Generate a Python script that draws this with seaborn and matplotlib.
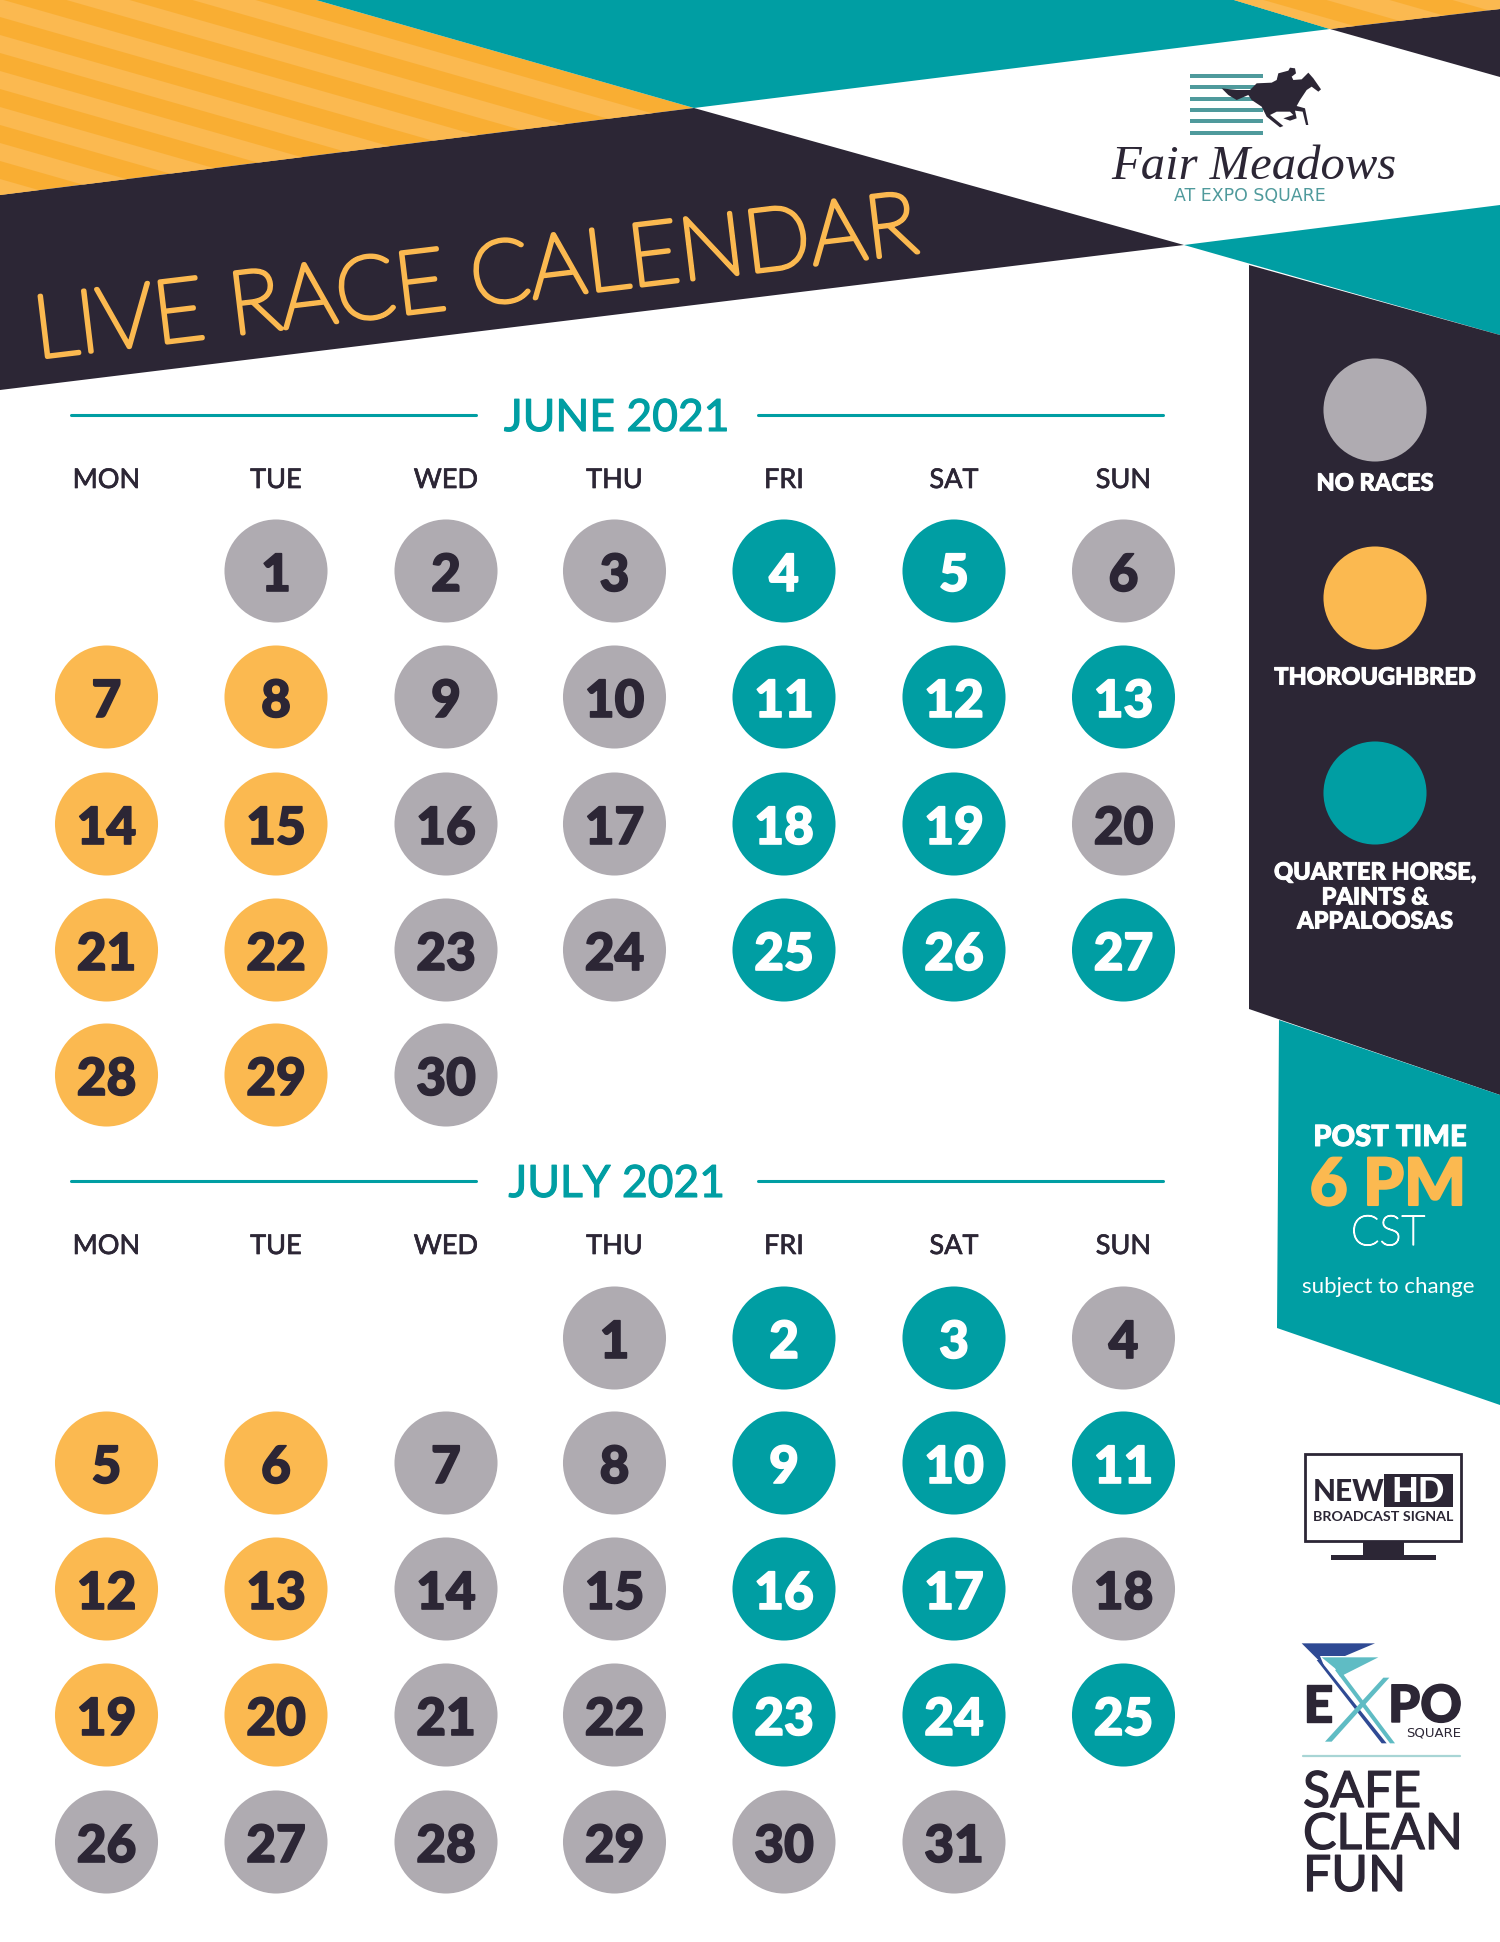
"""Fair Meadows live race calendar, June and July 2021."""
import matplotlib
matplotlib.use('Agg')
import matplotlib.pyplot as plt
import matplotlib.patheffects as pe
import seaborn as sns
import pandas as pd
from matplotlib.patches import Polygon, Rectangle

TEAL = '#009ea3'
ORANGE = '#fbb950'
ORANGE_DK = '#f9ae33'
DARK = '#2c2635'
GREY = '#afabb1'
LOGO_TEAL = '#4f9a9c'

weekdays = ['MON', 'TUE', 'WED', 'THU', 'FRI', 'SAT', 'SUN']

# N = no races, T = thoroughbred, Q = quarter horse / paints / appaloosas
june_kinds = list('NNNQQN' 'TTNNQQQ' 'TTNNQQN' 'TTNNQQQ' 'TTN')
july_kinds = list('NQQN' 'TTNNQQQ' 'TTNNQQN' 'TTNNQQQ' 'NNNNNN')

kind_colors = {'N': GREY, 'T': ORANGE, 'Q': TEAL}
kind_text = {'N': DARK, 'T': DARK, 'Q': 'white'}
legend_kinds = ['N', 'T', 'Q']

# page layout, in reference pixels
col_x = [106.5, 276, 446, 614.5, 784, 954, 1123.5]
june_rows = [571, 697, 824, 950, 1075]
july_rows = [1338, 1463, 1589, 1715, 1842]
CIRCLE_S = 74.2 ** 2


def month_frame(year, month, kinds):
    days = pd.date_range(f'{year}-{month:02d}-01', periods=len(kinds))
    first_offset = days[0].weekday()
    df = pd.DataFrame({'day': days.day, 'kind': kinds})
    df['col'] = days.weekday
    df['week'] = (df['day'] - 1 + first_offset) // 7
    return df


june = month_frame(2021, 6, june_kinds)
july = month_frame(2021, 7, july_kinds)
june['x'] = [col_x[c] for c in june['col']]
june['y'] = [june_rows[w] for w in june['week']]
july['x'] = [col_x[c] for c in july['col']]
july['y'] = [july_rows[w] for w in july['week']]

sns.set_theme(style='white')
plt.rcParams['font.family'] = ['Lato', 'DejaVu Sans']

fig = plt.figure(figsize=(15, 19.42), dpi=100)
ax = fig.add_axes([0, 0, 1, 1])
ax.set_xlim(0, 1500)
ax.set_ylim(1942, 0)
ax.axis('off')


def poly(points, color, z=1):
    ax.add_patch(Polygon(points, closed=True, facecolor=color, edgecolor='none', zorder=z))


def to_page(points, x0, y0):
    return [(x0 + px / 3, y0 + py / 3) for px, py in points]


def heavy(color, width=1.0):
    return [pe.withStroke(linewidth=width, foreground=color)]


def striped(area):
    poly(area, ORANGE_DK)
    clip = Polygon(area, closed=True, transform=ax.transData)
    for k in range(-14, 8):
        y0 = k * 36 - 1
        band = Polygon([(0, y0), (1500, y0 + 1500 * STRIPE_SLOPE),
                        (1500, y0 + 18 + 1500 * STRIPE_SLOPE), (0, y0 + 18)],
                       closed=True, facecolor=ORANGE, edgecolor='none', zorder=1.1)
        ax.add_patch(band)
        band.set_clip_path(clip)


# header shapes
STRIPE_SLOPE = 108 / 378
striped([(0, 0), (316, 0), (694, 108), (0, 195)])
striped([(1234, 0), (1500, 0), (1500, 9), (1330, 29)])
poly([(316, 0), (1234, 0), (1330, 29), (694, 108)], TEAL)
poly([(1330, 29), (1500, 9), (1500, 77)], DARK)
poly([(0, 195), (694, 108), (1184, 245), (0, 390)], DARK)
poly([(1184, 245), (1500, 205), (1500, 335)], TEAL)

# right side panels
poly([(1249, 265), (1500, 335), (1500, 1095), (1249, 1009)], DARK)
poly([(1279, 1020), (1500, 1095), (1500, 1405), (1277, 1328)], TEAL)

# 'light' resolves to the hairline cut here, so give it some body with a stroke
ax.text(37, 358, 'LIVE RACE CALENDAR', color=ORANGE, fontsize=63, fontweight='light',
        rotation=6.85, rotation_mode='anchor', ha='left', va='baseline', zorder=3,
        path_effects=heavy(ORANGE, 3.2))

# fair meadows logo
for py in [102, 136, 170, 204, 238, 272]:
    ax.add_patch(Rectangle((1190, 40 + py / 3), 73, 4, facecolor=LOGO_TEAL, edgecolor='none', zorder=2))
horse = [(425, 145), (470, 150), (510, 150), (530, 130), (575, 128), (590, 120), (595, 100),
         (625, 92), (630, 83), (645, 85), (648, 100), (635, 110), (640, 120), (665, 118),
         (685, 98), (700, 115), (723, 148), (715, 155), (695, 140), (680, 150), (660, 180),
         (650, 198), (675, 205), (685, 255), (678, 255), (668, 215), (645, 212), (650, 235),
         (630, 242), (610, 235), (640, 225), (630, 215), (590, 215), (570, 225), (610, 258),
         (600, 262), (560, 230), (545, 200), (515, 180), (505, 165), (470, 180), (445, 165)]
poly(to_page(horse, 1080, 40), DARK, z=3)
ax.text(1254, 179, 'Fair Meadows', family='Liberation Serif', style='italic', color=DARK,
        fontsize=35, ha='center', va='baseline', zorder=3)
ax.text(1250, 201, 'AT EXPO SQUARE', family='DejaVu Sans', color=LOGO_TEAL, fontsize=12.5,
        ha='center', va='baseline', zorder=3)


def month_header(label, text_y, line_y, head_y):
    ax.text(617, text_y, label, color=TEAL, fontsize=32, fontweight='normal',
            ha='center', va='baseline', zorder=3, path_effects=heavy(TEAL, 0.8))
    sns.lineplot(x=[71, 476], y=[line_y, line_y], color=TEAL, linewidth=2.2, ax=ax, legend=False)
    sns.lineplot(x=[758, 1163], y=[line_y, line_y], color=TEAL, linewidth=2.2, ax=ax, legend=False)
    for x, wd in zip(col_x, weekdays):
        ax.text(x, head_y, wd, color=DARK, fontsize=19.5, ha='center', va='baseline',
                zorder=3, path_effects=heavy(DARK, 0.5))


def month_grid(df):
    sns.scatterplot(data=df, x='x', y='y', hue='kind', palette=kind_colors, s=CIRCLE_S,
                    linewidth=0, legend=False, ax=ax, zorder=2, clip_on=False)
    for row in df.itertuples():
        color = kind_text[row.kind]
        ax.text(row.x, row.y + 20, str(row.day), color=color, fontsize=37, fontweight='black',
                ha='center', va='baseline', zorder=3, path_effects=heavy(color, 1.2))


month_header('JUNE 2021', 431, 415, 488)
month_header('JULY 2021', 1197, 1181, 1254)
month_grid(june)
month_grid(july)

# legend panel
legend_df = pd.DataFrame({'kind': legend_kinds, 'x': [1375] * 3, 'y': [410, 598, 793]})
sns.scatterplot(data=legend_df, x='x', y='y', hue='kind', palette=kind_colors, s=CIRCLE_S,
                linewidth=0, legend=False, ax=ax, zorder=2)
for y, label in [(483, 'NO RACES'), (677, 'THOROUGHBRED'), (872, 'QUARTER HORSE,'),
                 (897, 'PAINTS &'), (921, 'APPALOOSAS')]:
    ax.text(1375, y, label, color='white', fontsize=17, fontweight='black',
            ha='center', va='center', zorder=3, path_effects=heavy('white', 0.7))

# post time box
ax.text(1390, 1146, 'POST TIME', color='white', fontsize=21, fontweight='black', ha='center',
        va='baseline', zorder=3, path_effects=heavy('white', 0.7))
ax.text(1388, 1205, '6 PM', color=ORANGE, fontsize=47, fontweight='black', ha='center',
        va='baseline', zorder=3, path_effects=heavy(ORANGE, 1.5))
ax.text(1388, 1245, 'CST', color='white', fontsize=30, fontweight='light', ha='center',
        va='baseline', zorder=3, path_effects=heavy('white', 1.0))
ax.text(1388, 1293, 'subject to change', color='white', fontsize=16, ha='center', va='baseline', zorder=3)

# hd broadcast badge
ax.add_patch(Rectangle((1305, 1454), 156, 87, facecolor='none', edgecolor=DARK, linewidth=2, zorder=2))
ax.add_patch(Rectangle((1363, 1542), 41, 13, facecolor=DARK, edgecolor='none', zorder=2))
ax.add_patch(Rectangle((1331, 1555), 105, 5, facecolor=DARK, edgecolor='none', zorder=2))
ax.add_patch(Rectangle((1384, 1474), 69, 33, facecolor=DARK, edgecolor='none', zorder=2))
ax.text(1313, 1501, 'NEW', color=DARK, fontsize=21.5, fontweight='black', ha='left', va='baseline', zorder=3)
ax.text(1418.5, 1502, 'HD', color='white', fontsize=25, fontweight='black', ha='center', va='baseline', zorder=3)
ax.text(1383, 1521, 'BROADCAST SIGNAL', color=DARK, fontsize=10.3, fontweight='bold', ha='center', va='baseline', zorder=3)

# expo square logo
poly(to_page([(125, 670), (345, 670), (255, 708), (180, 708), (195, 745), (180, 725)], 1260, 1420), '#2f4a94')
poly(to_page([(185, 712), (355, 712), (250, 765), (240, 770), (225, 745)], 1260, 1420), '#5fbcc4')
poly(to_page([(170, 720), (180, 720), (380, 970), (365, 970)], 1260, 1420), '#2f4a94', z=1.5)
poly(to_page([(225, 750), (240, 750), (405, 970), (390, 970)], 1260, 1420), '#5fbcc4', z=1.5)
poly(to_page([(370, 773), (388, 773), (215, 965), (195, 965)], 1260, 1420), '#5fbcc4', z=1.6)
ax.text(1303, 1722, 'E', color=DARK, fontsize=37, fontweight='black', ha='left', va='baseline',
        zorder=3, path_effects=heavy(DARK, 1.0))
ax.text(1388, 1722, 'PO', color=DARK, fontsize=37, fontweight='black', ha='left', va='baseline',
        zorder=3, path_effects=heavy(DARK, 1.0))
ax.text(1461, 1736, 'SQUARE', family='DejaVu Sans', color=DARK, fontsize=9.5, ha='right', va='baseline', zorder=3)
sns.lineplot(x=[1303, 1460], y=[1756, 1756], color='#a8d5d5', linewidth=1.6, ax=ax, legend=False)
for y, word in [(1807, 'SAFE'), (1849, 'CLEAN'), (1891, 'FUN')]:
    ax.text(1303, y, word, color=DARK, fontsize=36, fontweight='normal', ha='left', va='baseline',
            zorder=3, path_effects=heavy(DARK, 0.9))

ax.set_xlim(0, 1500)
ax.set_ylim(1942, 0)
ax.axis('off')
fig.savefig('out.png', dpi=100, facecolor='white')
